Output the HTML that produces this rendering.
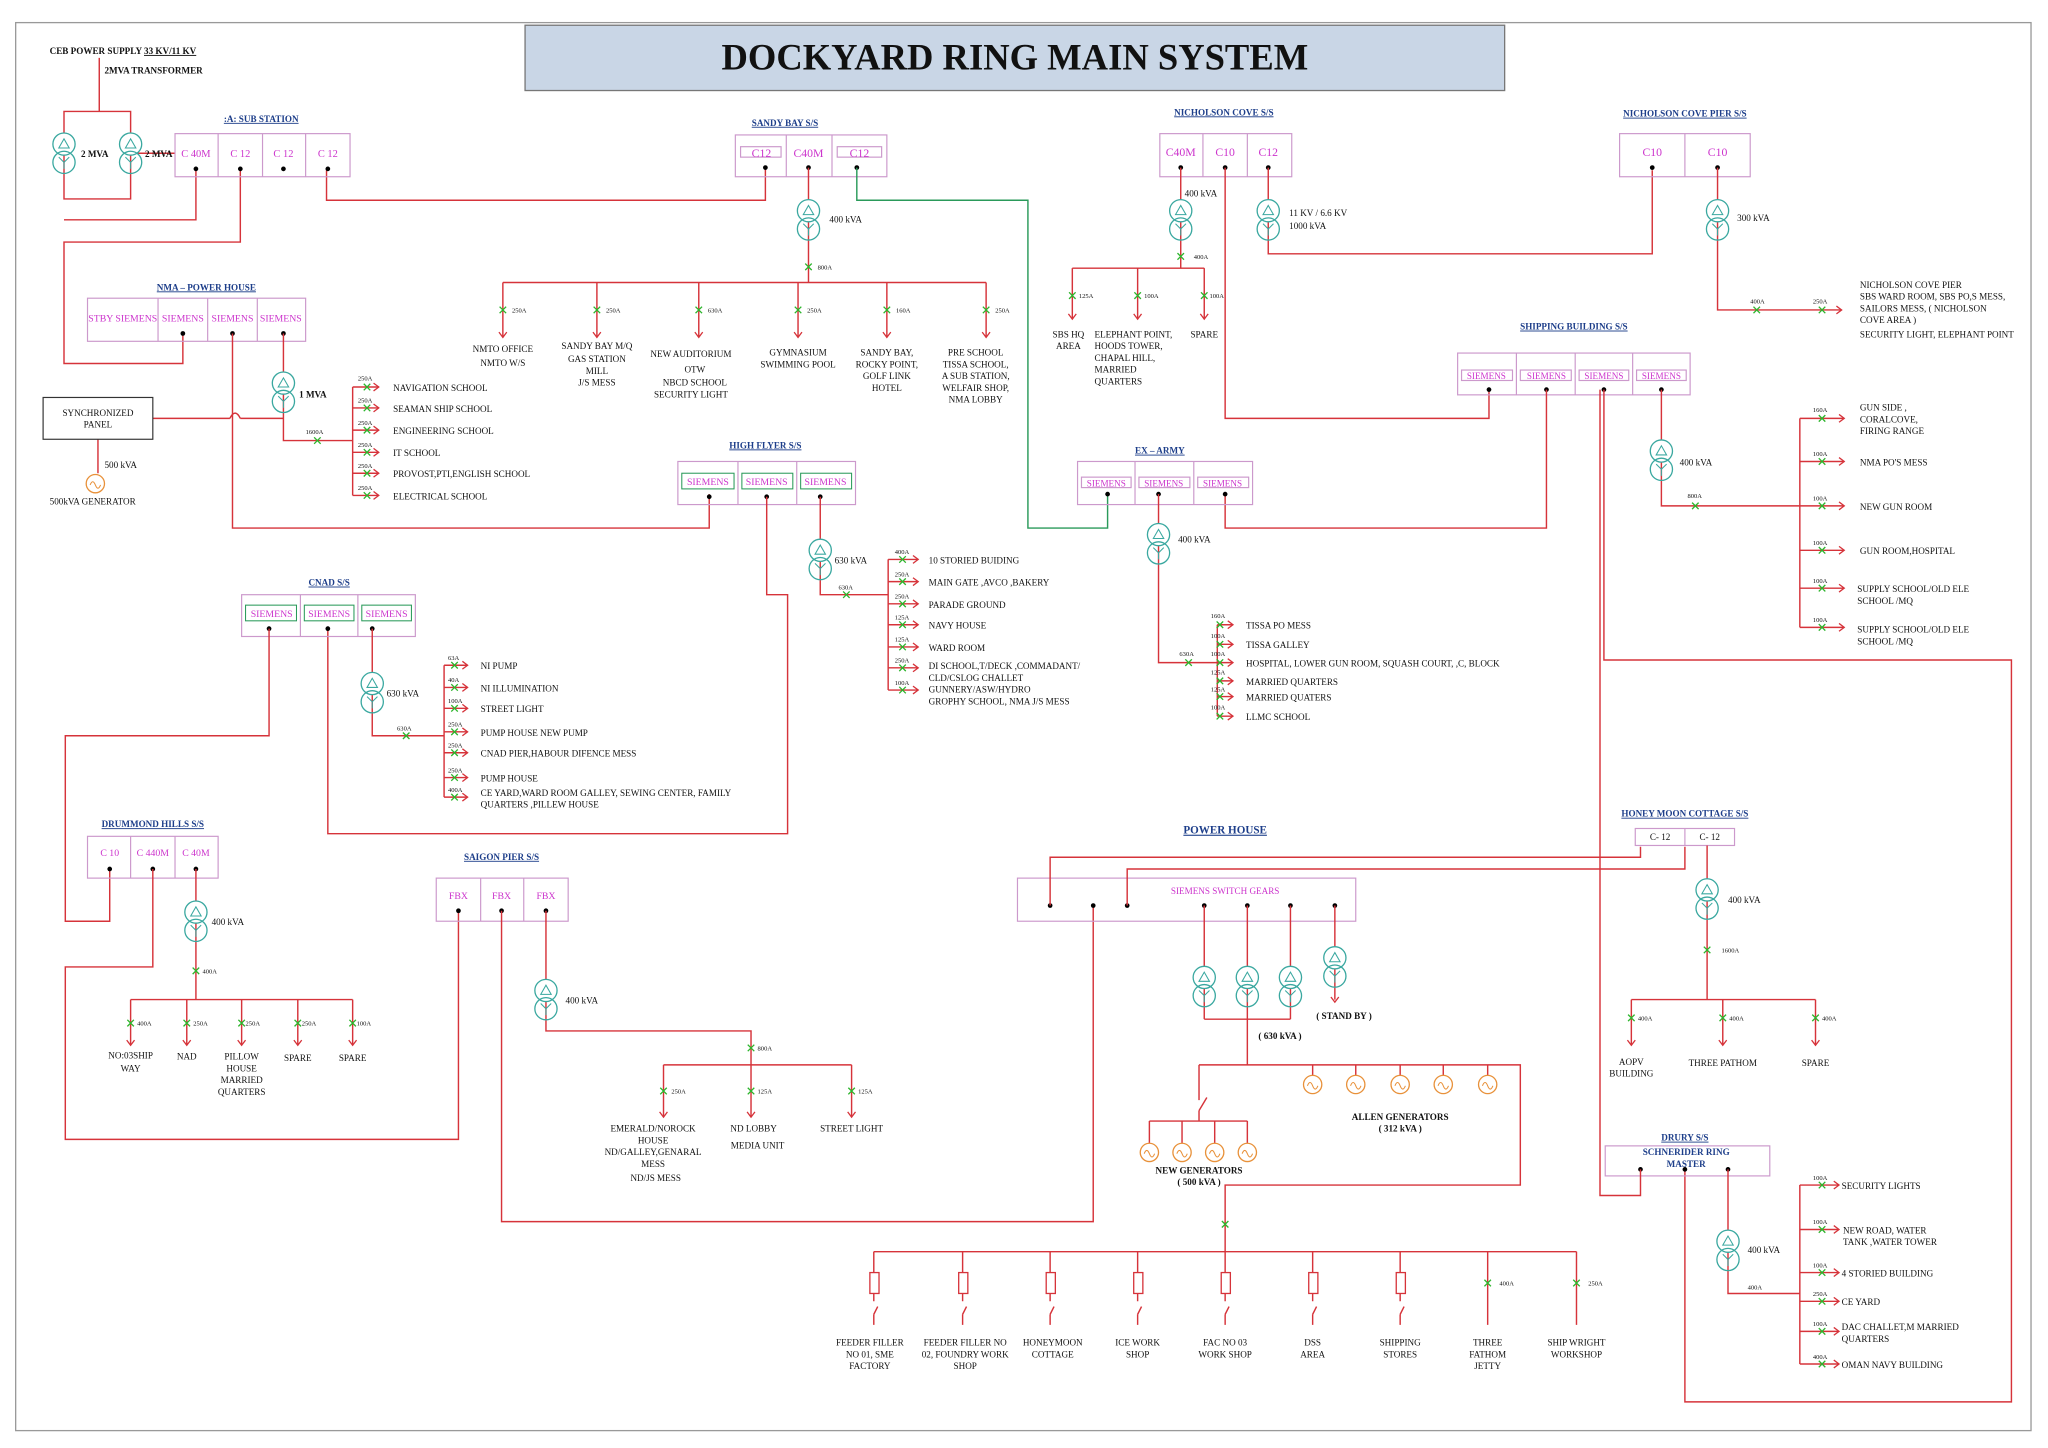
<!DOCTYPE html>
<html><head><meta charset="utf-8"><style>
html,body{margin:0;padding:0;background:#fff;}
svg{display:block}
text{font-family:"Liberation Serif",serif;font-size:7px;fill:#111}
.b{fill:none;stroke:#c9c;stroke-width:0.9}
.m{fill:#c3c;font-size:8px;text-anchor:middle}
.lb{fill:#1d3e8a;font-weight:bold;font-size:7px;text-anchor:middle;text-decoration:underline}
.r{fill:none;stroke:#d6333a;stroke-width:1.1}
.g{fill:none;stroke:#2a9a5a;stroke-width:1.1}
.c{text-anchor:middle}
.s{font-size:5px}
</style></head><body>
<svg width="2048" height="1448" viewBox="0 0 1568 1108" xmlns="http://www.w3.org/2000/svg">
<defs>
<g id="tx"><circle cx="0" cy="-7" r="8.5" fill="#fff" stroke="#3aa8a0" stroke-width="1"/><circle cx="0" cy="7" r="8.5" fill="none" stroke="#3aa8a0" stroke-width="1"/><path d="M-4,-4 L0,-11 L4,-4Z M0,7 L0,12 M0,7 L-4,3 M0,7 L4,3" fill="none" stroke="#3aa8a0" stroke-width="0.8"/></g>
<g id="x"><path d="M-2.5,-2.5 L2.5,2.5 M-2.5,2.5 L2.5,-2.5" stroke="#2cb52c" stroke-width="1"/></g>
<g id="ar"><path d="M-3,-4 L0,0 L3,-4" fill="none" stroke="#d6333a" stroke-width="1"/></g>
<g id="ge"><circle r="7" fill="#fff" stroke="#e8913a" stroke-width="1"/><path d="M-4,1 q2,-5 4,0 q2,5 4,0" fill="none" stroke="#e8913a" stroke-width="0.8"/></g>
<g id="dot"><circle r="1.8" fill="#000"/></g>
</defs>
<rect x="12" y="17" width="1543" height="1078" fill="none" stroke="#999" stroke-width="1"/>
<rect x="402" y="19" width="750" height="50" fill="#c9d6e6" stroke="#777"/>
<text x="777" y="53" class="c" style="font-size:28px;font-weight:bold">DOCKYARD RING MAIN SYSTEM</text>

<!-- CEB -->
<text x="38" y="41" style="font-weight:bold">CEB POWER SUPPLY <tspan text-decoration="underline">33 KV/11 KV</tspan></text>
<text x="80" y="56" style="font-weight:bold">2MVA TRANSFORMER</text>
<path class="r" d="M76,44 V85 M49,85 H100 V152 H49 Z M100,117 H134 M150,130 V168 H49 M184,130 V185 H49 V278 H140 V255 M250,130 V153 H586 V128"/>
<use href="#tx" x="49" y="117"/><use href="#tx" x="100" y="117"/>
<text x="62" y="120" style="font-weight:bold">2 MVA</text><text x="111" y="120" style="font-weight:bold">2 MVA</text>
<text x="200" y="93" class="lb">:A: SUB STATION</text>
<rect class="b" x="134" y="102" width="134" height="33"/><path class="b" d="M167,102V135M201,102V135M234,102V135"/>
<text x="150" y="120" class="m">C 40M</text><text x="184" y="120" class="m">C 12</text><text x="217" y="120" class="m">C 12</text><text x="251" y="120" class="m">C 12</text>
<use href="#dot" x="150" y="129"/><use href="#dot" x="184" y="129"/><use href="#dot" x="217" y="129"/><use href="#dot" x="251" y="129"/>

<!-- Sandy Bay -->
<text x="601" y="96" class="lb">SANDY BAY S/S</text>
<rect class="b" x="563" y="103" width="116" height="32"/><path class="b" d="M602,103V135M637,103V135"/>
<rect class="b" x="567" y="112" width="31" height="8"/><rect class="b" x="641" y="112" width="34" height="8"/>
<text x="583" y="120" class="m" style="font-size:9px">C12</text><text x="619" y="120" class="m" style="font-size:9px">C40M</text><text x="658" y="120" class="m" style="font-size:9px">C12</text>
<use href="#dot" x="586" y="128"/><use href="#dot" x="619" y="128"/><use href="#dot" x="656" y="128"/>
<path class="r" d="M619,128 V216 M385,216 H755 M385,216V258 M457,216V258 M535,216V258 M611,216V258 M679,216V258 M755,216V258"/>
<use href="#tx" x="619" y="168"/><text x="635" y="170">400 kVA</text>
<use href="#x" x="619" y="204"/><text x="626" y="206" class="s">800A</text>
<g><use href="#x" x="385" y="237"/><use href="#x" x="457" y="237"/><use href="#x" x="535" y="237"/><use href="#x" x="611" y="237"/><use href="#x" x="679" y="237"/><use href="#x" x="755" y="237"/>
<use href="#ar" x="385" y="258"/><use href="#ar" x="457" y="258"/><use href="#ar" x="535" y="258"/><use href="#ar" x="611" y="258"/><use href="#ar" x="679" y="258"/><use href="#ar" x="755" y="258"/></g>
<text x="392" y="239" class="s">250A</text><text x="464" y="239" class="s">250A</text><text x="542" y="239" class="s">630A</text><text x="618" y="239" class="s">250A</text><text x="686" y="239" class="s">160A</text><text x="762" y="239" class="s">250A</text>
<text class="c" x="385" y="269">NMTO OFFICE</text><text class="c" x="385" y="280">NMTO W/S</text>
<text class="c" x="457" y="267">SANDY BAY M/Q</text><text class="c" x="457" y="277">GAS STATION</text><text class="c" x="457" y="286">MILL</text><text class="c" x="457" y="295">J/S MESS</text>
<text class="c" x="529" y="273">NEW AUDITORIUM</text><text class="c" x="532" y="285">OTW</text><text class="c" x="532" y="295">NBCD SCHOOL</text><text class="c" x="529" y="304">SECURITY LIGHT</text>
<text class="c" x="611" y="272">GYMNASIUM</text><text class="c" x="611" y="281">SWIMMING POOL</text>
<text class="c" x="679" y="272">SANDY BAY,</text><text class="c" x="679" y="281">ROCKY POINT,</text><text class="c" x="679" y="290">GOLF LINK</text><text class="c" x="679" y="299">HOTEL</text>
<text class="c" x="747" y="272">PRE SCHOOL</text><text class="c" x="747" y="281">TISSA SCHOOL,</text><text class="c" x="747" y="290">A SUB STATION,</text><text class="c" x="747" y="299">WELFAIR SHOP,</text><text class="c" x="747" y="308">NMA LOBBY</text>
<path class="g" d="M656,128 V153 H787 V404 H848 V378"/>

<!-- Nicholson Cove -->
<text x="937" y="88" class="lb">NICHOLSON COVE S/S</text>
<rect class="b" x="888" y="102" width="101" height="33"/><path class="b" d="M921,102V135M955,102V135"/>
<text x="904" y="119" class="m" style="font-size:9px">C40M</text><text x="938" y="119" class="m" style="font-size:9px">C10</text><text x="971" y="119" class="m" style="font-size:9px">C12</text>
<use href="#dot" x="904" y="128"/><use href="#dot" x="938" y="128"/><use href="#dot" x="971" y="128"/>
<path class="r" d="M904,128V205 M821,205H922 M821,205V244 M871,205V244 M922,205V244 M938,128V320H1140V298 M971,128V194H1265V130"/>
<use href="#tx" x="904" y="168"/><text x="907" y="150">400 kVA</text>
<use href="#x" x="904" y="196"/><text x="914" y="198" class="s">400A</text>
<use href="#x" x="821" y="226"/><use href="#x" x="871" y="226"/><use href="#x" x="922" y="226"/>
<use href="#ar" x="821" y="244"/><use href="#ar" x="871" y="244"/><use href="#ar" x="922" y="244"/>
<text x="826" y="228" class="s">125A</text><text x="876" y="228" class="s">100A</text><text x="926" y="228" class="s">100A</text>
<text class="c" x="818" y="258">SBS HQ</text><text class="c" x="818" y="267">AREA</text>
<text x="838" y="258">ELEPHANT POINT,</text><text x="838" y="267">HOODS TOWER,</text><text x="838" y="276">CHAPAL HILL,</text><text x="838" y="285">MARRIED</text><text x="838" y="294">QUARTERS</text>
<text class="c" x="922" y="258">SPARE</text>
<use href="#tx" x="971" y="168"/><text x="987" y="165">11 KV / 6.6 KV</text><text x="987" y="175">1000 kVA</text>

<!-- Nicholson Cove Pier -->
<text x="1290" y="89" class="lb">NICHOLSON COVE PIER S/S</text>
<rect class="b" x="1240" y="102" width="100" height="33"/><path class="b" d="M1290,102V135"/>
<text x="1265" y="119" class="m" style="font-size:9px">C10</text><text x="1315" y="119" class="m" style="font-size:9px">C10</text>
<use href="#dot" x="1265" y="128"/><use href="#dot" x="1315" y="128"/>
<path class="r" d="M1315,128V237H1410"/><path d="M1406,234 L1410,237 L1406,240" fill="none" stroke="#d6333a"/>
<use href="#tx" x="1315" y="168"/><text x="1330" y="169">300 kVA</text>
<use href="#x" x="1345" y="237"/><use href="#x" x="1395" y="237"/><text x="1340" y="232" class="s">400A</text><text x="1388" y="232" class="s">250A</text>
<text x="1424" y="220">NICHOLSON COVE PIER</text><text x="1424" y="229">SBS WARD ROOM, SBS PO,S MESS,</text><text x="1424" y="238">SAILORS MESS, ( NICHOLSON</text><text x="1424" y="247">COVE AREA )</text><text x="1424" y="258">SECURITY LIGHT, ELEPHANT POINT</text>

<!-- Shipping building -->
<text x="1205" y="252" class="lb">SHIPPING BUILDING S/S</text>
<rect class="b" x="1116" y="270" width="178" height="32"/><path class="b" d="M1161,270V302M1206,270V302M1250,270V302"/>
<rect class="b" x="1119" y="283" width="39" height="8"/><rect class="b" x="1164" y="283" width="39" height="8"/><rect class="b" x="1209" y="283" width="38" height="8"/><rect class="b" x="1253" y="283" width="38" height="8"/>
<text x="1138" y="290" class="m" style="font-size:7px">SIEMENS</text><text x="1184" y="290" class="m" style="font-size:7px">SIEMENS</text><text x="1228" y="290" class="m" style="font-size:7px">SIEMENS</text><text x="1272" y="290" class="m" style="font-size:7px">SIEMENS</text>
<use href="#dot" x="1140" y="298"/><use href="#dot" x="1184" y="298"/><use href="#dot" x="1228" y="298"/><use href="#dot" x="1272" y="298"/>
<path class="r" d="M1184,298V404H938V378 M1228,298V505H1540V1073H1290V895 M1272,298V387H1378 M1378,320V480 M1378,320H1412 M1378,353H1412 M1378,387H1412 M1378,421H1412 M1378,450H1412 M1378,480H1412"/>
<use href="#tx" x="1272" y="352"/><text x="1286" y="356">400 kVA</text>
<use href="#x" x="1298" y="387"/><text x="1292" y="381" class="s">800A</text>
<g transform="rotate(-90)"><use href="#ar" x="-320" y="1412"/><use href="#ar" x="-353" y="1412"/><use href="#ar" x="-387" y="1412"/><use href="#ar" x="-421" y="1412"/><use href="#ar" x="-450" y="1412"/><use href="#ar" x="-480" y="1412"/></g>
<use href="#x" x="1395" y="320"/><use href="#x" x="1395" y="353"/><use href="#x" x="1395" y="387"/><use href="#x" x="1395" y="421"/><use href="#x" x="1395" y="450"/><use href="#x" x="1395" y="480"/>
<text x="1388" y="315" class="s">160A</text><text x="1388" y="349" class="s">100A</text><text x="1388" y="383" class="s">100A</text><text x="1388" y="417" class="s">100A</text><text x="1388" y="446" class="s">100A</text><text x="1388" y="476" class="s">100A</text>
<text x="1424" y="314">GUN SIDE ,</text><text x="1424" y="323">CORALCOVE,</text><text x="1424" y="332">FIRING RANGE</text>
<text x="1424" y="356">NMA PO'S MESS</text><text x="1424" y="390">NEW GUN ROOM</text><text x="1424" y="424">GUN ROOM,HOSPITAL</text>
<text x="1422" y="453">SUPPLY SCHOOL/OLD ELE</text><text x="1422" y="462">SCHOOL /MQ</text>
<text x="1422" y="484">SUPPLY SCHOOL/OLD ELE</text><text x="1422" y="493">SCHOOL /MQ</text>

<!-- NMA Power house -->
<text x="158" y="222" class="lb">NMA – POWER HOUSE</text>
<rect class="b" x="67" y="228" width="167" height="33"/><path class="b" d="M121,228V261M159,228V261M197,228V261"/>
<text x="94" y="246" class="m" style="font-size:7.5px">STBY SIEMENS</text><text x="140" y="246" class="m" style="font-size:7.5px">SIEMENS</text><text x="178" y="246" class="m" style="font-size:7.5px">SIEMENS</text><text x="215" y="246" class="m" style="font-size:7.5px">SIEMENS</text>
<use href="#dot" x="140" y="255"/><use href="#dot" x="178" y="255"/><use href="#dot" x="217" y="255"/>
<path class="r" d="M217,255V337H270 M270,296V379 M270,296H290 M270,312H290 M270,329H290 M270,346H290 M270,362H290 M270,379H290 M178,255V404H543V378 M117,320H176 M184,320H217 M176,320 q4,-8 8,0 M75,336V362"/>
<use href="#tx" x="217" y="300"/><text x="229" y="304" style="font-weight:bold">1 MVA</text>
<use href="#x" x="243" y="337"/><text x="234" y="332" class="s">1600A</text>
<g transform="rotate(-90)"><use href="#ar" x="-296" y="290"/><use href="#ar" x="-312" y="290"/><use href="#ar" x="-329" y="290"/><use href="#ar" x="-346" y="290"/><use href="#ar" x="-362" y="290"/><use href="#ar" x="-379" y="290"/></g>
<use href="#x" x="281" y="296"/><use href="#x" x="281" y="312"/><use href="#x" x="281" y="329"/><use href="#x" x="281" y="346"/><use href="#x" x="281" y="362"/><use href="#x" x="281" y="379"/>
<text x="274" y="291" class="s">250A</text><text x="274" y="308" class="s">250A</text><text x="274" y="325" class="s">250A</text><text x="274" y="342" class="s">250A</text><text x="274" y="358" class="s">250A</text><text x="274" y="375" class="s">250A</text>
<text x="301" y="299">NAVIGATION SCHOOL</text><text x="301" y="315">SEAMAN SHIP SCHOOL</text><text x="301" y="332">ENGINEERING SCHOOL</text><text x="301" y="349">IT SCHOOL</text><text x="301" y="365">PROVOST,PTI,ENGLISH SCHOOL</text><text x="301" y="382">ELECTRICAL SCHOOL</text>
<rect x="33" y="304" width="84" height="32" fill="none" stroke="#333" stroke-width="0.9"/>
<text x="75" y="318" class="c">SYNCHRONIZED</text><text x="75" y="327" class="c">PANEL</text>
<use href="#ge" x="73" y="370"/><text x="80" y="358">500 kVA</text><text x="38" y="386">500kVA GENERATOR</text>

<!-- High Flyer -->
<text x="586" y="343" class="lb">HIGH FLYER S/S</text>
<rect class="b" x="519" y="353" width="136" height="33"/><path class="b" d="M565,353V386M610,353V386"/>
<rect x="522" y="362" width="40" height="12" fill="none" stroke="#2a9a5a" stroke-width="0.8"/><rect x="568" y="362" width="39" height="12" fill="none" stroke="#2a9a5a" stroke-width="0.8"/><rect x="613" y="362" width="39" height="12" fill="none" stroke="#2a9a5a" stroke-width="0.8"/>
<text x="542" y="371" class="m" style="font-size:7.5px">SIEMENS</text><text x="587" y="371" class="m" style="font-size:7.5px">SIEMENS</text><text x="632" y="371" class="m" style="font-size:7.5px">SIEMENS</text>
<use href="#dot" x="543" y="380"/><use href="#dot" x="587" y="380"/><use href="#dot" x="628" y="380"/>
<path class="r" d="M628,380V455H680 M680,428V528 M680,428H703 M680,445H703 M680,462H703 M680,478H703 M680,495H703 M680,511H703 M680,528H703 M587,380V455H603V638H251V480"/>
<use href="#tx" x="628" y="428"/><text x="639" y="431">630 kVA</text>
<use href="#x" x="648" y="455"/><text x="642" y="451" class="s">630A</text>
<g transform="rotate(-90)"><use href="#ar" x="-428" y="703"/><use href="#ar" x="-445" y="703"/><use href="#ar" x="-462" y="703"/><use href="#ar" x="-478" y="703"/><use href="#ar" x="-495" y="703"/><use href="#ar" x="-511" y="703"/><use href="#ar" x="-528" y="703"/></g>
<use href="#x" x="691" y="428"/><use href="#x" x="691" y="445"/><use href="#x" x="691" y="462"/><use href="#x" x="691" y="478"/><use href="#x" x="691" y="495"/><use href="#x" x="691" y="511"/><use href="#x" x="691" y="528"/>
<text x="685" y="424" class="s">400A</text><text x="685" y="441" class="s">250A</text><text x="685" y="458" class="s">250A</text><text x="685" y="474" class="s">125A</text><text x="685" y="491" class="s">125A</text><text x="685" y="507" class="s">250A</text><text x="685" y="524" class="s">100A</text>
<text x="711" y="431">10 STORIED BUIDING</text><text x="711" y="448">MAIN GATE ,AVCO ,BAKERY</text><text x="711" y="465">PARADE GROUND</text><text x="711" y="481">NAVY HOUSE</text><text x="711" y="498">WARD ROOM</text>
<text x="711" y="512">DI SCHOOL,T/DECK ,COMMADANT/</text><text x="711" y="521">CLD/CSLOG CHALLET</text><text x="711" y="530">GUNNERY/ASW/HYDRO</text><text x="711" y="539">GROPHY SCHOOL, NMA J/S MESS</text>

<!-- Ex-Army -->
<text x="888" y="347" class="lb">EX – ARMY</text>
<rect class="b" x="825" y="353" width="134" height="33"/><path class="b" d="M869,353V386M914,353V386"/>
<rect class="b" x="828" y="365" width="38" height="8"/><rect class="b" x="872" y="365" width="39" height="8"/><rect class="b" x="917" y="365" width="39" height="8"/>
<text x="847" y="372" class="m" style="font-size:7px">SIEMENS</text><text x="891" y="372" class="m" style="font-size:7px">SIEMENS</text><text x="936" y="372" class="m" style="font-size:7px">SIEMENS</text>
<use href="#dot" x="848" y="378"/><use href="#dot" x="887" y="378"/><use href="#dot" x="938" y="378"/>
<path class="r" d="M887,378V507H932 M932,478V548 M932,478H944 M932,493H944 M932,507H944 M932,521H944 M932,533H944 M932,548H944"/>
<use href="#tx" x="887" y="416"/><text x="902" y="415">400 kVA</text>
<use href="#x" x="910" y="507"/><text x="903" y="502" class="s">630A</text>
<g transform="rotate(-90)"><use href="#ar" x="-478" y="944"/><use href="#ar" x="-493" y="944"/><use href="#ar" x="-507" y="944"/><use href="#ar" x="-521" y="944"/><use href="#ar" x="-533" y="944"/><use href="#ar" x="-548" y="944"/></g>
<use href="#x" x="934" y="478"/><use href="#x" x="934" y="493"/><use href="#x" x="934" y="507"/><use href="#x" x="934" y="521"/><use href="#x" x="934" y="533"/><use href="#x" x="934" y="548"/>
<text x="927" y="473" class="s">160A</text><text x="927" y="488" class="s">100A</text><text x="927" y="502" class="s">100A</text><text x="927" y="516" class="s">125A</text><text x="927" y="529" class="s">125A</text><text x="927" y="543" class="s">100A</text>
<text x="954" y="481">TISSA  PO MESS</text><text x="954" y="496">TISSA GALLEY</text><text x="954" y="510">HOSPITAL, LOWER GUN ROOM, SQUASH COURT, ,C, BLOCK</text><text x="954" y="524">MARRIED QUARTERS</text><text x="954" y="536">MARRIED QUATERS</text><text x="954" y="551">LLMC SCHOOL</text>

<!-- CNAD -->
<text x="252" y="448" class="lb">CNAD S/S</text>
<rect class="b" x="185" y="455" width="133" height="32"/><path class="b" d="M230,455V487M274,455V487"/>
<rect x="188" y="463" width="39" height="12" fill="none" stroke="#2a9a5a" stroke-width="0.8"/><rect x="233" y="463" width="38" height="12" fill="none" stroke="#2a9a5a" stroke-width="0.8"/><rect x="277" y="463" width="38" height="12" fill="none" stroke="#2a9a5a" stroke-width="0.8"/>
<text x="208" y="472" class="m" style="font-size:7.5px">SIEMENS</text><text x="252" y="472" class="m" style="font-size:7.5px">SIEMENS</text><text x="296" y="472" class="m" style="font-size:7.5px">SIEMENS</text>
<use href="#dot" x="206" y="481"/><use href="#dot" x="251" y="481"/><use href="#dot" x="285" y="481"/>
<path class="r" d="M206,481V563H50V705H84V665 M285,481V563H340 M340,509V610 M340,509H358 M340,526H358 M340,542H358 M340,560H358 M340,576H358 M340,595H358 M340,610H358"/>
<use href="#tx" x="285" y="530"/><text x="296" y="533">630 kVA</text>
<use href="#x" x="311" y="563"/><text x="304" y="559" class="s">630A</text>
<g transform="rotate(-90)"><use href="#ar" x="-509" y="358"/><use href="#ar" x="-526" y="358"/><use href="#ar" x="-542" y="358"/><use href="#ar" x="-560" y="358"/><use href="#ar" x="-576" y="358"/><use href="#ar" x="-595" y="358"/><use href="#ar" x="-610" y="358"/></g>
<use href="#x" x="348" y="509"/><use href="#x" x="348" y="526"/><use href="#x" x="348" y="542"/><use href="#x" x="348" y="560"/><use href="#x" x="348" y="576"/><use href="#x" x="348" y="595"/><use href="#x" x="348" y="610"/>
<text x="343" y="505" class="s">63A</text><text x="343" y="522" class="s">40A</text><text x="343" y="538" class="s">100A</text><text x="343" y="556" class="s">250A</text><text x="343" y="572" class="s">250A</text><text x="343" y="591" class="s">250A</text><text x="343" y="606" class="s">400A</text>
<text x="368" y="512">NI PUMP</text><text x="368" y="529">NI ILLUMINATION</text><text x="368" y="545">STREET LIGHT</text><text x="368" y="563">PUMP HOUSE NEW PUMP</text><text x="368" y="579">CNAD PIER,HABOUR DIFENCE MESS</text><text x="368" y="598">PUMP HOUSE</text>
<text x="368" y="609">CE YARD,WARD ROOM GALLEY, SEWING CENTER, FAMILY</text><text x="368" y="618">QUARTERS ,PILLEW HOUSE</text>

<!-- Drummond -->
<text x="117" y="633" class="lb">DRUMMOND HILLS S/S</text>
<rect class="b" x="67" y="640" width="100" height="32"/><path class="b" d="M100,640V672M134,640V672"/>
<text x="84" y="655" class="m" style="font-size:7.5px">C 10</text><text x="117" y="655" class="m" style="font-size:7.5px">C 440M</text><text x="150" y="655" class="m" style="font-size:7.5px">C 40M</text>
<use href="#dot" x="84" y="665"/><use href="#dot" x="117" y="665"/><use href="#dot" x="150" y="665"/>
<path class="r" d="M117,665V740H50V872H351V697 M150,665V765 M100,765H270 M100,765V800 M143,765V800 M185,765V800 M228,765V800 M270,765V800"/>
<use href="#tx" x="150" y="705"/><text x="162" y="708">400 kVA</text>
<use href="#x" x="150" y="743"/><text x="155" y="745" class="s">400A</text>
<use href="#x" x="100" y="783"/><use href="#x" x="143" y="783"/><use href="#x" x="185" y="783"/><use href="#x" x="228" y="783"/><use href="#x" x="270" y="783"/>
<use href="#ar" x="100" y="800"/><use href="#ar" x="143" y="800"/><use href="#ar" x="185" y="800"/><use href="#ar" x="228" y="800"/><use href="#ar" x="270" y="800"/>
<text x="105" y="785" class="s">400A</text><text x="148" y="785" class="s">250A</text><text x="188" y="785" class="s">250A</text><text x="231" y="785" class="s">250A</text><text x="273" y="785" class="s">100A</text>
<text class="c" x="100" y="810">NO:03SHIP</text><text class="c" x="100" y="820">WAY</text><text class="c" x="143" y="811">NAD</text>
<text class="c" x="185" y="811">PILLOW</text><text class="c" x="185" y="820">HOUSE</text><text class="c" x="185" y="829">MARRIED</text><text class="c" x="185" y="838">QUARTERS</text>
<text class="c" x="228" y="812">SPARE</text><text class="c" x="270" y="812">SPARE</text>

<!-- Saigon -->
<text x="384" y="658" class="lb">SAIGON PIER S/S</text>
<rect class="b" x="334" y="672" width="101" height="33"/><path class="b" d="M368,672V705M401,672V705"/>
<text x="351" y="688" class="m" style="font-size:7.5px">FBX</text><text x="384" y="688" class="m" style="font-size:7.5px">FBX</text><text x="418" y="688" class="m" style="font-size:7.5px">FBX</text>
<use href="#dot" x="351" y="697"/><use href="#dot" x="384" y="697"/><use href="#dot" x="418" y="697"/>
<path class="r" d="M384,697V935H837V693 M418,697V789H575V815 M508,815H652 M508,815V855 M575,815V855 M652,815V855"/>
<use href="#tx" x="418" y="765"/><text x="433" y="768">400 kVA</text>
<use href="#x" x="575" y="802"/><text x="580" y="804" class="s">800A</text>
<use href="#x" x="508" y="835"/><use href="#x" x="575" y="835"/><use href="#x" x="652" y="835"/>
<use href="#ar" x="508" y="855"/><use href="#ar" x="575" y="855"/><use href="#ar" x="652" y="855"/>
<text x="514" y="837" class="s">250A</text><text x="580" y="837" class="s">125A</text><text x="657" y="837" class="s">125A</text>
<text class="c" x="500" y="866">EMERALD/NOROCK</text><text class="c" x="500" y="875">HOUSE</text><text class="c" x="500" y="884">ND/GALLEY,GENARAL</text><text class="c" x="500" y="893">MESS</text><text class="c" x="502" y="904">ND/JS MESS</text>
<text class="c" x="577" y="866">ND LOBBY</text><text class="c" x="580" y="879">MEDIA UNIT</text><text class="c" x="652" y="866">STREET LIGHT</text>

<!-- Power House -->
<text x="938" y="638" class="lb" style="font-size:8.5px">POWER HOUSE</text>
<rect class="b" x="779" y="672" width="259" height="33"/>
<text x="938" y="684" class="m" style="font-size:7px">SIEMENS SWITCH GEARS</text>
<use href="#dot" x="804" y="693"/><use href="#dot" x="837" y="693"/><use href="#dot" x="863" y="693"/><use href="#dot" x="922" y="693"/><use href="#dot" x="955" y="693"/><use href="#dot" x="988" y="693"/><use href="#dot" x="1022" y="693"/>
<path class="r" d="M804,693V656H1256V648 M863,693V665H1290V648 M922,693V780 M955,693V815 M988,693V780 M922,780H988 M1022,693V765 M918,815H1164V907H938V958 M918,815V842 M918,850V858 M880,858H955 M880,858V875 M905,858V875 M930,858V875 M955,858V875 M1005,815V823 M1038,815V823 M1072,815V823 M1105,815V823 M1139,815V823 M669,958H1207"/>
<path class="r" d="M918,850 L924,840"/>
<use href="#tx" x="922" y="755"/><use href="#tx" x="955" y="755"/><use href="#tx" x="988" y="755"/><use href="#tx" x="1022" y="740"/><use href="#ar" x="1022" y="767"/>
<text x="1029" y="780" class="c" style="font-weight:bold">( STAND BY )</text>
<text x="980" y="795" class="c" style="font-weight:bold">( 630 kVA )</text>
<use href="#ge" x="1005" y="830"/><use href="#ge" x="1038" y="830"/><use href="#ge" x="1072" y="830"/><use href="#ge" x="1105" y="830"/><use href="#ge" x="1139" y="830"/>
<text x="1072" y="857" class="c" style="font-weight:bold">ALLEN GENERATORS</text><text x="1072" y="866" class="c" style="font-weight:bold">( 312 kVA )</text>
<use href="#ge" x="880" y="882"/><use href="#ge" x="905" y="882"/><use href="#ge" x="930" y="882"/><use href="#ge" x="955" y="882"/>
<text x="918" y="898" class="c" style="font-weight:bold">NEW GENERATORS</text><text x="918" y="907" class="c" style="font-weight:bold">( 500 kVA )</text>
<use href="#x" x="938" y="937"/>
<g class="r">
<path class="r" d="M669,958V974 M669,990V996 M672,1000 L669,1006 M669,1006V1014 M737,958V974 M737,990V996 M740,1000 L737,1006 M737,1006V1014 M804,958V974 M804,990V996 M807,1000 L804,1006 M804,1006V1014 M871,958V974 M871,990V996 M874,1000 L871,1006 M871,1006V1014 M938,958V974 M938,990V996 M941,1000 L938,1006 M938,1006V1014 M1005,958V974 M1005,990V996 M1008,1000 L1005,1006 M1005,1006V1014 M1072,958V974 M1072,990V996 M1075,1000 L1072,1006 M1072,1006V1014 M1139,958V1014 M1207,958V1014"/>
</g>
<rect x="666" y="974" width="7" height="16" fill="none" stroke="#d6333a"/><rect x="734" y="974" width="7" height="16" fill="none" stroke="#d6333a"/><rect x="801" y="974" width="7" height="16" fill="none" stroke="#d6333a"/><rect x="868" y="974" width="7" height="16" fill="none" stroke="#d6333a"/><rect x="935" y="974" width="7" height="16" fill="none" stroke="#d6333a"/><rect x="1002" y="974" width="7" height="16" fill="none" stroke="#d6333a"/><rect x="1069" y="974" width="7" height="16" fill="none" stroke="#d6333a"/>
<use href="#x" x="1139" y="982"/><use href="#x" x="1207" y="982"/><text x="1148" y="984" class="s">400A</text><text x="1216" y="984" class="s">250A</text>
<text class="c" x="666" y="1030">FEEDER FILLER</text><text class="c" x="666" y="1039">NO 01, SME</text><text class="c" x="666" y="1048">FACTORY</text>
<text class="c" x="739" y="1030">FEEDER FILLER NO</text><text class="c" x="739" y="1039">02, FOUNDRY WORK</text><text class="c" x="739" y="1048">SHOP</text>
<text class="c" x="806" y="1030">HONEYMOON</text><text class="c" x="806" y="1039">COTTAGE</text>
<text class="c" x="871" y="1030">ICE WORK</text><text class="c" x="871" y="1039">SHOP</text>
<text class="c" x="938" y="1030">FAC NO 03</text><text class="c" x="938" y="1039">WORK SHOP</text>
<text class="c" x="1005" y="1030">DSS</text><text class="c" x="1005" y="1039">AREA</text>
<text class="c" x="1072" y="1030">SHIPPING</text><text class="c" x="1072" y="1039">STORES</text>
<text class="c" x="1139" y="1030">THREE</text><text class="c" x="1139" y="1039">FATHOM</text><text class="c" x="1139" y="1048">JETTY</text>
<text class="c" x="1207" y="1030">SHIP WRIGHT</text><text class="c" x="1207" y="1039">WORKSHOP</text>

<!-- Honey Moon -->
<text x="1290" y="625" class="lb">HONEY MOON COTTAGE S/S</text>
<rect class="b" x="1252" y="634" width="76" height="13"/><path class="b" d="M1290,634V647"/>
<text x="1271" y="643" class="c">C- 12</text><text x="1309" y="643" class="c">C- 12</text>
<path class="r" d="M1307,647V765 M1249,765H1390 M1249,765V800 M1319,765V800 M1390,765V800"/>
<use href="#tx" x="1307" y="688"/><text x="1323" y="691">400 kVA</text>
<use href="#x" x="1307" y="727"/><text x="1318" y="729" class="s">1600A</text>
<use href="#x" x="1249" y="779"/><use href="#x" x="1319" y="779"/><use href="#x" x="1390" y="779"/>
<use href="#ar" x="1249" y="800"/><use href="#ar" x="1319" y="800"/><use href="#ar" x="1390" y="800"/>
<text x="1254" y="781" class="s">400A</text><text x="1324" y="781" class="s">400A</text><text x="1395" y="781" class="s">400A</text>
<text class="c" x="1249" y="815">AOPV</text><text class="c" x="1249" y="824">BUILDING</text><text class="c" x="1319" y="816">THREE PATHOM</text><text class="c" x="1390" y="816">SPARE</text>

<!-- Drury -->
<text x="1290" y="873" class="lb">DRURY S/S</text>
<rect class="b" x="1229" y="877" width="126" height="23"/>
<text x="1291" y="884" class="c" style="fill:#1d3e8a;font-weight:bold">SCHNERIDER RING</text><text x="1291" y="893" class="c" style="fill:#1d3e8a;font-weight:bold">MASTER</text>
<use href="#dot" x="1256" y="895"/><use href="#dot" x="1290" y="895"/><use href="#dot" x="1323" y="895"/>
<path class="r" d="M1256,895V915H1225V298 M1323,895V990H1378 M1378,907V1044 M1378,907H1408 M1378,941H1408 M1378,974H1408 M1378,996H1408 M1378,1019H1408 M1378,1044H1408"/>
<use href="#tx" x="1323" y="957"/><text x="1338" y="959">400 kVA</text>
<text x="1338" y="987" class="s">400A</text>
<g transform="rotate(-90)"><use href="#ar" x="-907" y="1408"/><use href="#ar" x="-941" y="1408"/><use href="#ar" x="-974" y="1408"/><use href="#ar" x="-996" y="1408"/><use href="#ar" x="-1019" y="1408"/><use href="#ar" x="-1044" y="1408"/></g>
<use href="#x" x="1395" y="907"/><use href="#x" x="1395" y="941"/><use href="#x" x="1395" y="974"/><use href="#x" x="1395" y="996"/><use href="#x" x="1395" y="1019"/><use href="#x" x="1395" y="1044"/>
<text x="1388" y="903" class="s">100A</text><text x="1388" y="937" class="s">100A</text><text x="1388" y="970" class="s">100A</text><text x="1388" y="992" class="s">250A</text><text x="1388" y="1015" class="s">100A</text><text x="1388" y="1040" class="s">400A</text>
<text x="1410" y="910">SECURITY LIGHTS</text><text x="1411" y="944">NEW ROAD, WATER</text><text x="1411" y="953">TANK ,WATER TOWER</text>
<text x="1410" y="977">4 STORIED BUILDING</text><text x="1410" y="999">CE YARD</text>
<text x="1410" y="1018">DAC CHALLET,M MARRIED</text><text x="1410" y="1027">QUARTERS</text><text x="1410" y="1047">OMAN NAVY BUILDING</text>
</svg>
</body></html>
